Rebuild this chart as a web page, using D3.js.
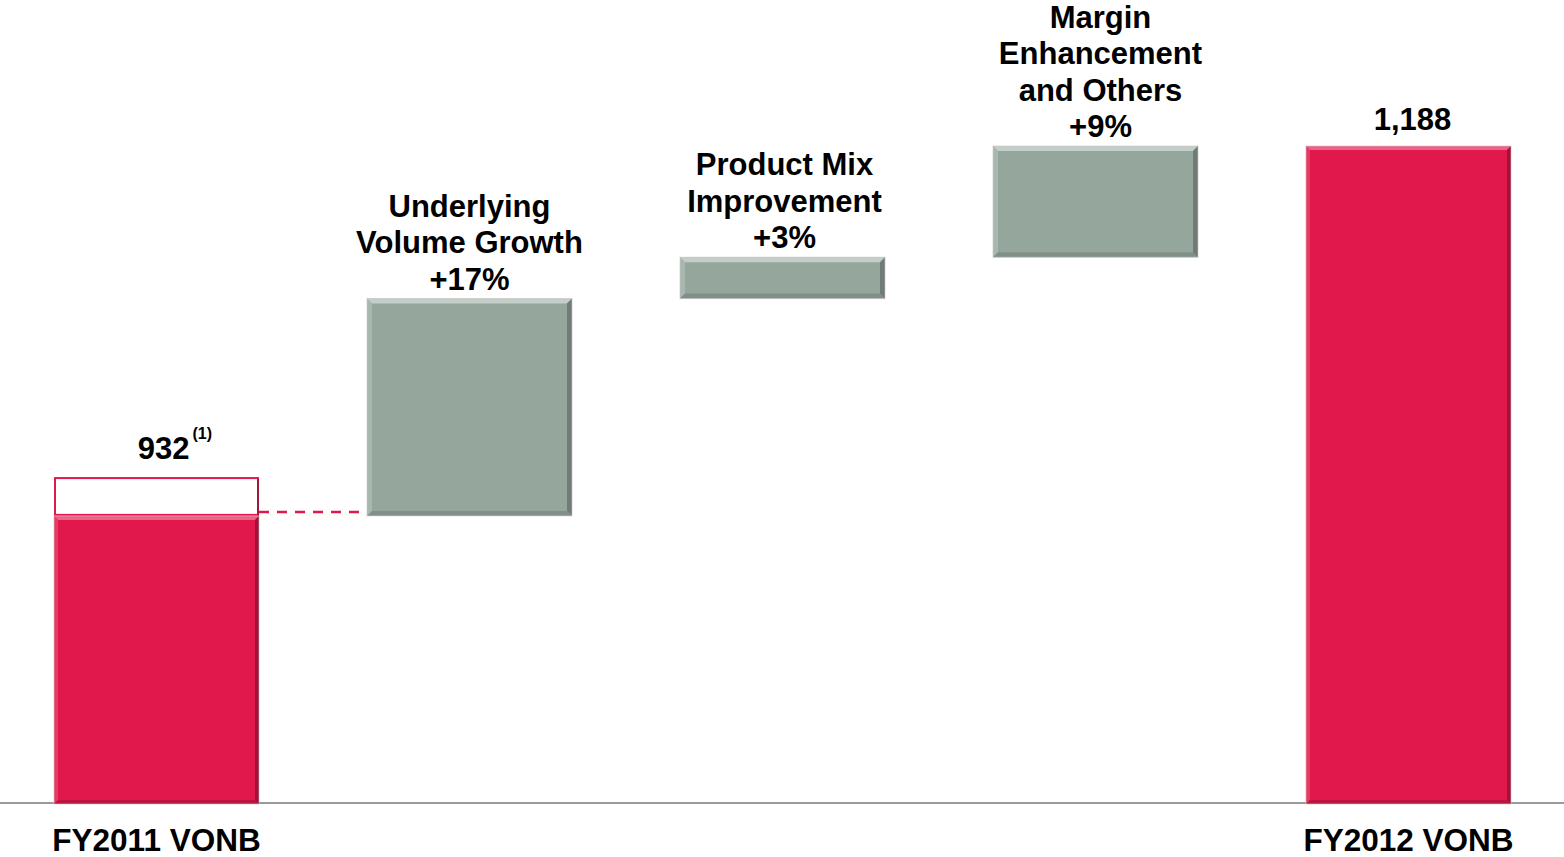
<!DOCTYPE html>
<html>
<head>
<meta charset="utf-8">
<script src="https://cdn.jsdelivr.net/npm/d3@7"></script>
<style>
  html, body { margin: 0; padding: 0; background: #fff; }
  svg { display: block; }
  text { font-family: "Liberation Sans", Arial, Helvetica, sans-serif; font-weight: bold; fill: #000; }
</style>
</head>
<body>
<svg id="chart" width="1564" height="857"></svg>
<script>
// ---- data ----
const categories = ["FY2011 VONB", "Underlying Volume Growth", "Product Mix Improvement", "Margin Enhancement and Others", "FY2012 VONB"];
const axisLabels = ["FY2011 VONB", "", "", "", "FY2012 VONB"];
const startValue = 932;        // reported FY2011 VONB
const adjustedStart = 902;     // base from which growth steps start
const deltas = [168, 32, 86];  // step contributions
const endValue = 1188;         // FY2012 VONB
const deltaLabels = [
  ["Underlying", "Volume Growth", "+17%"],
  ["Product Mix", "Improvement", "+3%"],
  ["Margin", "Enhancement", "and Others", "+9%"]
];
const valueLabels = ["932", "1,188"];
const footnoteMark = "(1)";
const axisMin = 680;

// ---- layout ----
const W = 1564, H = 857;
const baseY = 803, topY = 146;
const labelDx = [0, 2, 5];
const svg = d3.select("#chart");

const x = d3.scaleBand().domain(categories).range([54, 1511]).paddingInner(0.345).paddingOuter(0);
const y = d3.scaleLinear().domain([axisMin, endValue]).range([baseY, topY]);

const red = { fill: "#E1184B", top: "#f06a8c", left: "#e84a70", right: "#9c1036", bottom: "#b4143f" };
const gray = { fill: "#95A69D", top: "#c6d3cc", left: "#b0bfb7", right: "#6b7771", bottom: "#7d8a83" };

function bevelBar(g, x0, y0, w, h, c, b) {
  g.append("rect").attr("x", x0).attr("y", y0).attr("width", w).attr("height", h).attr("fill", c.fill);
  const x1 = x0 + w, y1 = y0 + h;
  const bb = Math.min(b, h / 2);
  const poly = (pts, col, op) => g.append("polygon").attr("points", pts.map(p => p.join(",")).join(" ")).attr("fill", col).attr("opacity", op);
  poly([[x0, y0], [x1, y0], [x1 - bb, y0 + bb], [x0 + bb, y0 + bb]], c.top, 0.9);
  poly([[x0, y0], [x0 + bb, y0 + bb], [x0 + bb, y1 - bb], [x0, y1]], c.left, 0.7);
  poly([[x1, y0], [x1, y1], [x1 - bb, y1 - bb], [x1 - bb, y0 + bb]], c.right, 0.9);
  poly([[x0, y1], [x0 + bb, y1 - bb], [x1 - bb, y1 - bb], [x1, y1]], c.bottom, 0.8);
  g.append("rect").attr("x", x0).attr("y", y0).attr("width", w).attr("height", h)
    .attr("fill", "none").attr("stroke", "#c8c8c8").attr("stroke-width", 1).attr("opacity", 0.6);
}

const bw = x.bandwidth();
const g = svg.append("g");

// baseline
g.append("line").attr("x1", 0).attr("x2", W).attr("y1", baseY).attr("y2", baseY)
  .attr("stroke", "#9a9a9a").attr("stroke-width", 2);

// FY2011 : white adjustment box + red bar
const c0 = categories[0];
g.append("rect").attr("x", x(c0) + 1).attr("y", y(startValue) + 1)
  .attr("width", bw - 2).attr("height", y(adjustedStart) - y(startValue) - 2)
  .attr("fill", "#fff").attr("stroke", "#E1184B").attr("stroke-width", 2);
g.append("line").attr("x1", x(c0) + bw - 1).attr("x2", x(c0) + bw - 1)
  .attr("y1", y(startValue) + 2).attr("y2", y(adjustedStart))
  .attr("stroke", "#8a1a3a").attr("stroke-width", 1.5);
bevelBar(g, x(c0), y(adjustedStart), bw, baseY + 1 - y(adjustedStart), red, 4);

// dashed connector
g.append("line").attr("x1", x(c0) + bw).attr("x2", x(categories[1]))
  .attr("y1", y(adjustedStart) - 4).attr("y2", y(adjustedStart) - 4)
  .attr("stroke", "#E1184B").attr("stroke-width", 2.5).attr("stroke-dasharray", "10,8");

// delta bars
let running = adjustedStart;
deltas.forEach((d, i) => {
  const cat = categories[i + 1];
  const lo = running, hi = running + d;
  bevelBar(g, x(cat), y(hi), bw, y(lo) - y(hi), gray, 5);
  const lines = deltaLabels[i];
  const lastBase = y(hi) - 9;
  const t = g.append("text").attr("text-anchor", "middle").attr("font-size", 31);
  lines.forEach((ln, j) => {
    t.append("tspan").attr("x", x(cat) + bw / 2 + labelDx[i])
      .attr("y", lastBase - (lines.length - 1 - j) * 36.5).text(ln);
  });
  running = hi;
});

// FY2012 bar
const c4 = categories[4];
bevelBar(g, x(c4), y(endValue), bw, baseY + 1 - y(endValue), red, 4);

// value labels
const cx0 = x(c0) + bw / 2;
g.append("text").attr("x", cx0 + 33).attr("y", y(startValue) - 18)
  .attr("text-anchor", "end").attr("font-size", 31).text(valueLabels[0]);
g.append("text").attr("x", cx0 + 36).attr("y", y(startValue) - 38)
  .attr("text-anchor", "start").attr("font-size", 16).text(footnoteMark);
g.append("text").attr("x", x(c4) + bw / 2 + 4).attr("y", y(endValue) - 16)
  .attr("text-anchor", "middle").attr("font-size", 31).text(valueLabels[1]);

// category axis labels
categories.forEach((c, i) => {
  if (!axisLabels[i]) return;
  g.append("text").attr("x", x(c) + bw / 2).attr("y", 851)
    .attr("text-anchor", "middle").attr("font-size", 31.5).text(axisLabels[i]);
});
</script>
</body>
</html>
